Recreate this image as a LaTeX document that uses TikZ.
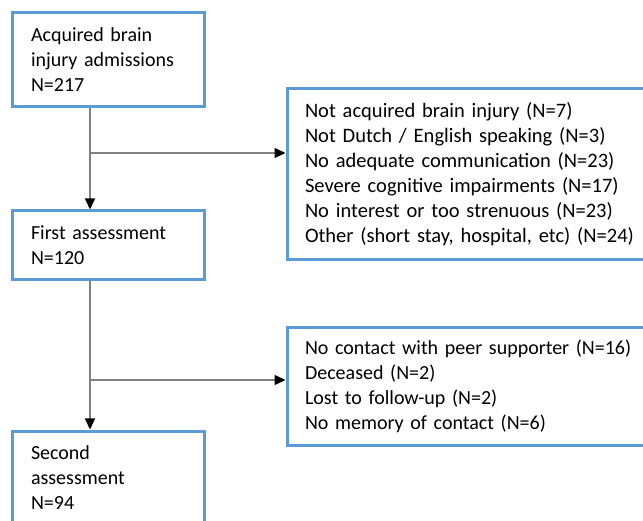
\documentclass[tikz,border=0pt]{standalone}
\usepackage{fontspec}
\setmainfont{Carlito}
\usetikzlibrary{arrows.meta}

\begin{document}
\begin{tikzpicture}[x=1pt,y=-1pt,
		stagebox/.style={draw=boxblue,line width=3pt,rectangle,minimum width=192pt,
			text width=154pt,align=left,inner xsep=19pt,font=\fontsize{20}{25}\selectfont},
		exclbox/.style={draw=boxblue,line width=3pt,rectangle,minimum width=373pt,
			text width=337pt,align=left,inner xsep=18pt,font=\fontsize{20}{25}\selectfont},
		flow/.style={draw=flowgrey,line width=1.5pt,-{Triangle[color=black,length=11pt,width=10pt]}}]
	\definecolor{boxblue}{HTML}{5B9BD5}
	\definecolor{flowgrey}{HTML}{808080}
	\useasboundingbox (0,0) rectangle (643,521);
	\clip (0,0) rectangle (643,521);
	\node[stagebox,minimum height=94pt] (abi) at (108,60)
		{Acquired brain\\injury admissions\\N=217};
	\node[stagebox,minimum height=69pt] (first) at (108,245.5)
		{First assessment\\N=120};
	\node[stagebox,minimum height=94pt] (second) at (108,478)
		{Second\\assessment\\N=94};
	\node[exclbox,minimum height=171pt,font=\fontsize{20.5}{25}\selectfont] (excl1) at (473.5,174.5)
		{Not acquired brain injury (N=7)\\
		 Not Dutch / English speaking (N=3)\\
		 No adequate communication (N=23)\\
		 Severe cognitive impairments (N=17)\\
		 No interest or too strenuous (N=23)\\
		 Other (short stay, hospital, etc) (N=24)};
	\node[exclbox,minimum height=117pt] (excl2) at (473.5,386.5)
		{No contact with peer supporter (N=16)\\
		 Deceased (N=2)\\
		 Lost to follow-up (N=2)\\
		 No memory of contact (N=6)};
	\coordinate (b1) at (90,153);
	\coordinate (b2) at (90,380);
	\path[flow] ([xshift=-18pt]abi.south) -- ([xshift=-18pt]first.north);
	\path[flow] ([xshift=-18pt]first.south) -- ([xshift=-18pt]second.north);
	\path[flow] (b1) -- (b1 -| excl1.west);
	\path[flow] (b2) -- (b2 -| excl2.west);
\end{tikzpicture}
\end{document}
